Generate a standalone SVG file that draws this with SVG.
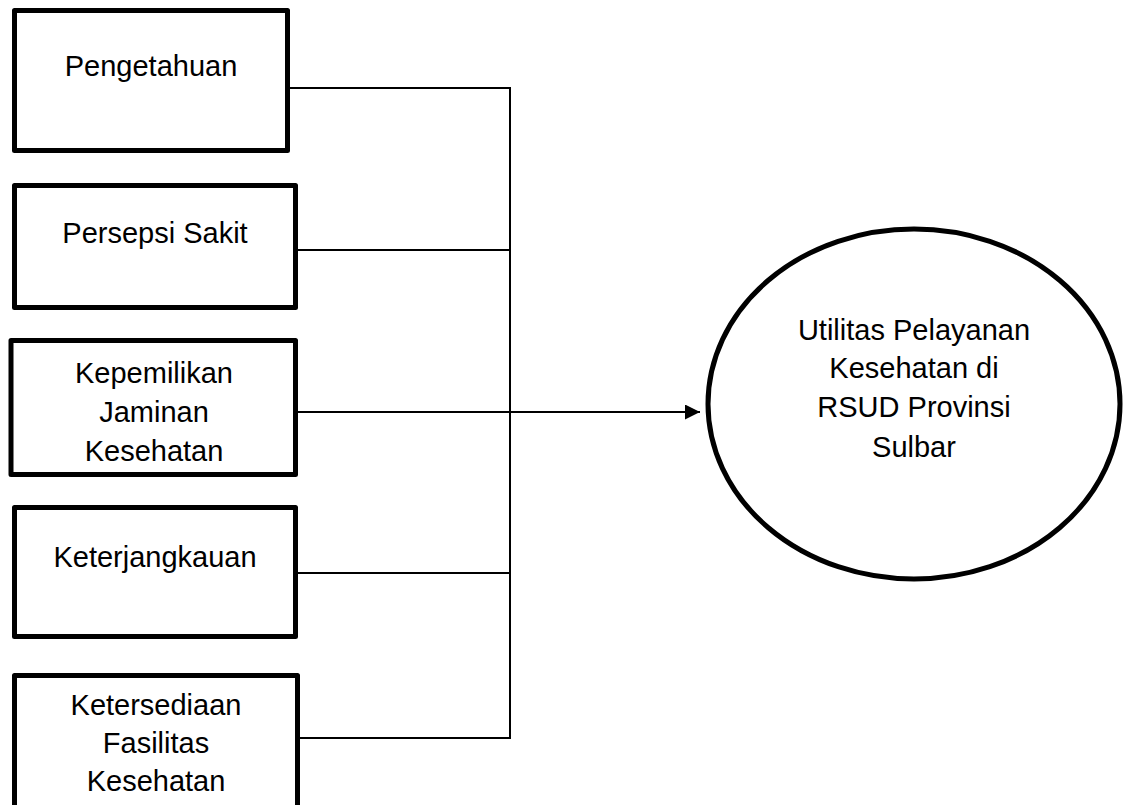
<svg xmlns="http://www.w3.org/2000/svg" width="1131" height="805" viewBox="0 0 1131 805">
<style>
.box{fill:#fff;stroke:#000;stroke-width:5;stroke-linejoin:round}
.ell{fill:#fff;stroke:#000;stroke-width:5}
.lbl{font-family:"Liberation Sans",Arial,sans-serif;font-size:29px;fill:#000;text-anchor:middle}
.con{fill:none;stroke:#000;stroke-width:2}
</style>
<defs>
<marker id="arr" markerUnits="userSpaceOnUse" markerWidth="16" markerHeight="16" refX="15" refY="7.5" orient="auto">
<path d="M0,0 L15,7.5 L0,15 Z" fill="#000"/>
</marker>
</defs>
<rect x="0" y="0" width="1131" height="805" fill="#fff"/>
<g id="connectors">
<path class="con" d="M290,88 H510 V738 H300"/>
<path class="con" d="M298,250 H510"/>
<path class="con" d="M298,573 H510"/>
<path class="con" d="M298,412 H700" marker-end="url(#arr)"/>
</g>
<g id="n1">
<rect class="box" x="14.5" y="10.5" width="273" height="140"/>
<text class="lbl" x="151" y="76">Pengetahuan</text>
</g>
<g id="n2">
<rect class="box" x="14.5" y="185.5" width="281" height="122"/>
<text class="lbl" x="155" y="243">Persepsi Sakit</text>
</g>
<g id="n3">
<rect class="box" x="11" y="340.5" width="284.5" height="134"/>
<text class="lbl" x="154" y="383">Kepemilikan</text>
<text class="lbl" x="154" y="422">Jaminan</text>
<text class="lbl" x="154" y="461">Kesehatan</text>
</g>
<g id="n4">
<rect class="box" x="14.5" y="507.5" width="281" height="129"/>
<text class="lbl" x="155" y="567">Keterjangkauan</text>
</g>
<g id="n5">
<rect class="box" x="14.5" y="675.5" width="283" height="140"/>
<text class="lbl" x="156" y="715">Ketersediaan</text>
<text class="lbl" x="156" y="753">Fasilitas</text>
<text class="lbl" x="156" y="791">Kesehatan</text>
</g>
<g id="n6">
<ellipse class="ell" cx="914" cy="404" rx="206" ry="175"/>
<text class="lbl" x="914" y="340">Utilitas Pelayanan</text>
<text class="lbl" x="914" y="378">Kesehatan di</text>
<text class="lbl" x="914" y="417">RSUD Provinsi</text>
<text class="lbl" x="914" y="457">Sulbar</text>
</g>
</svg>
